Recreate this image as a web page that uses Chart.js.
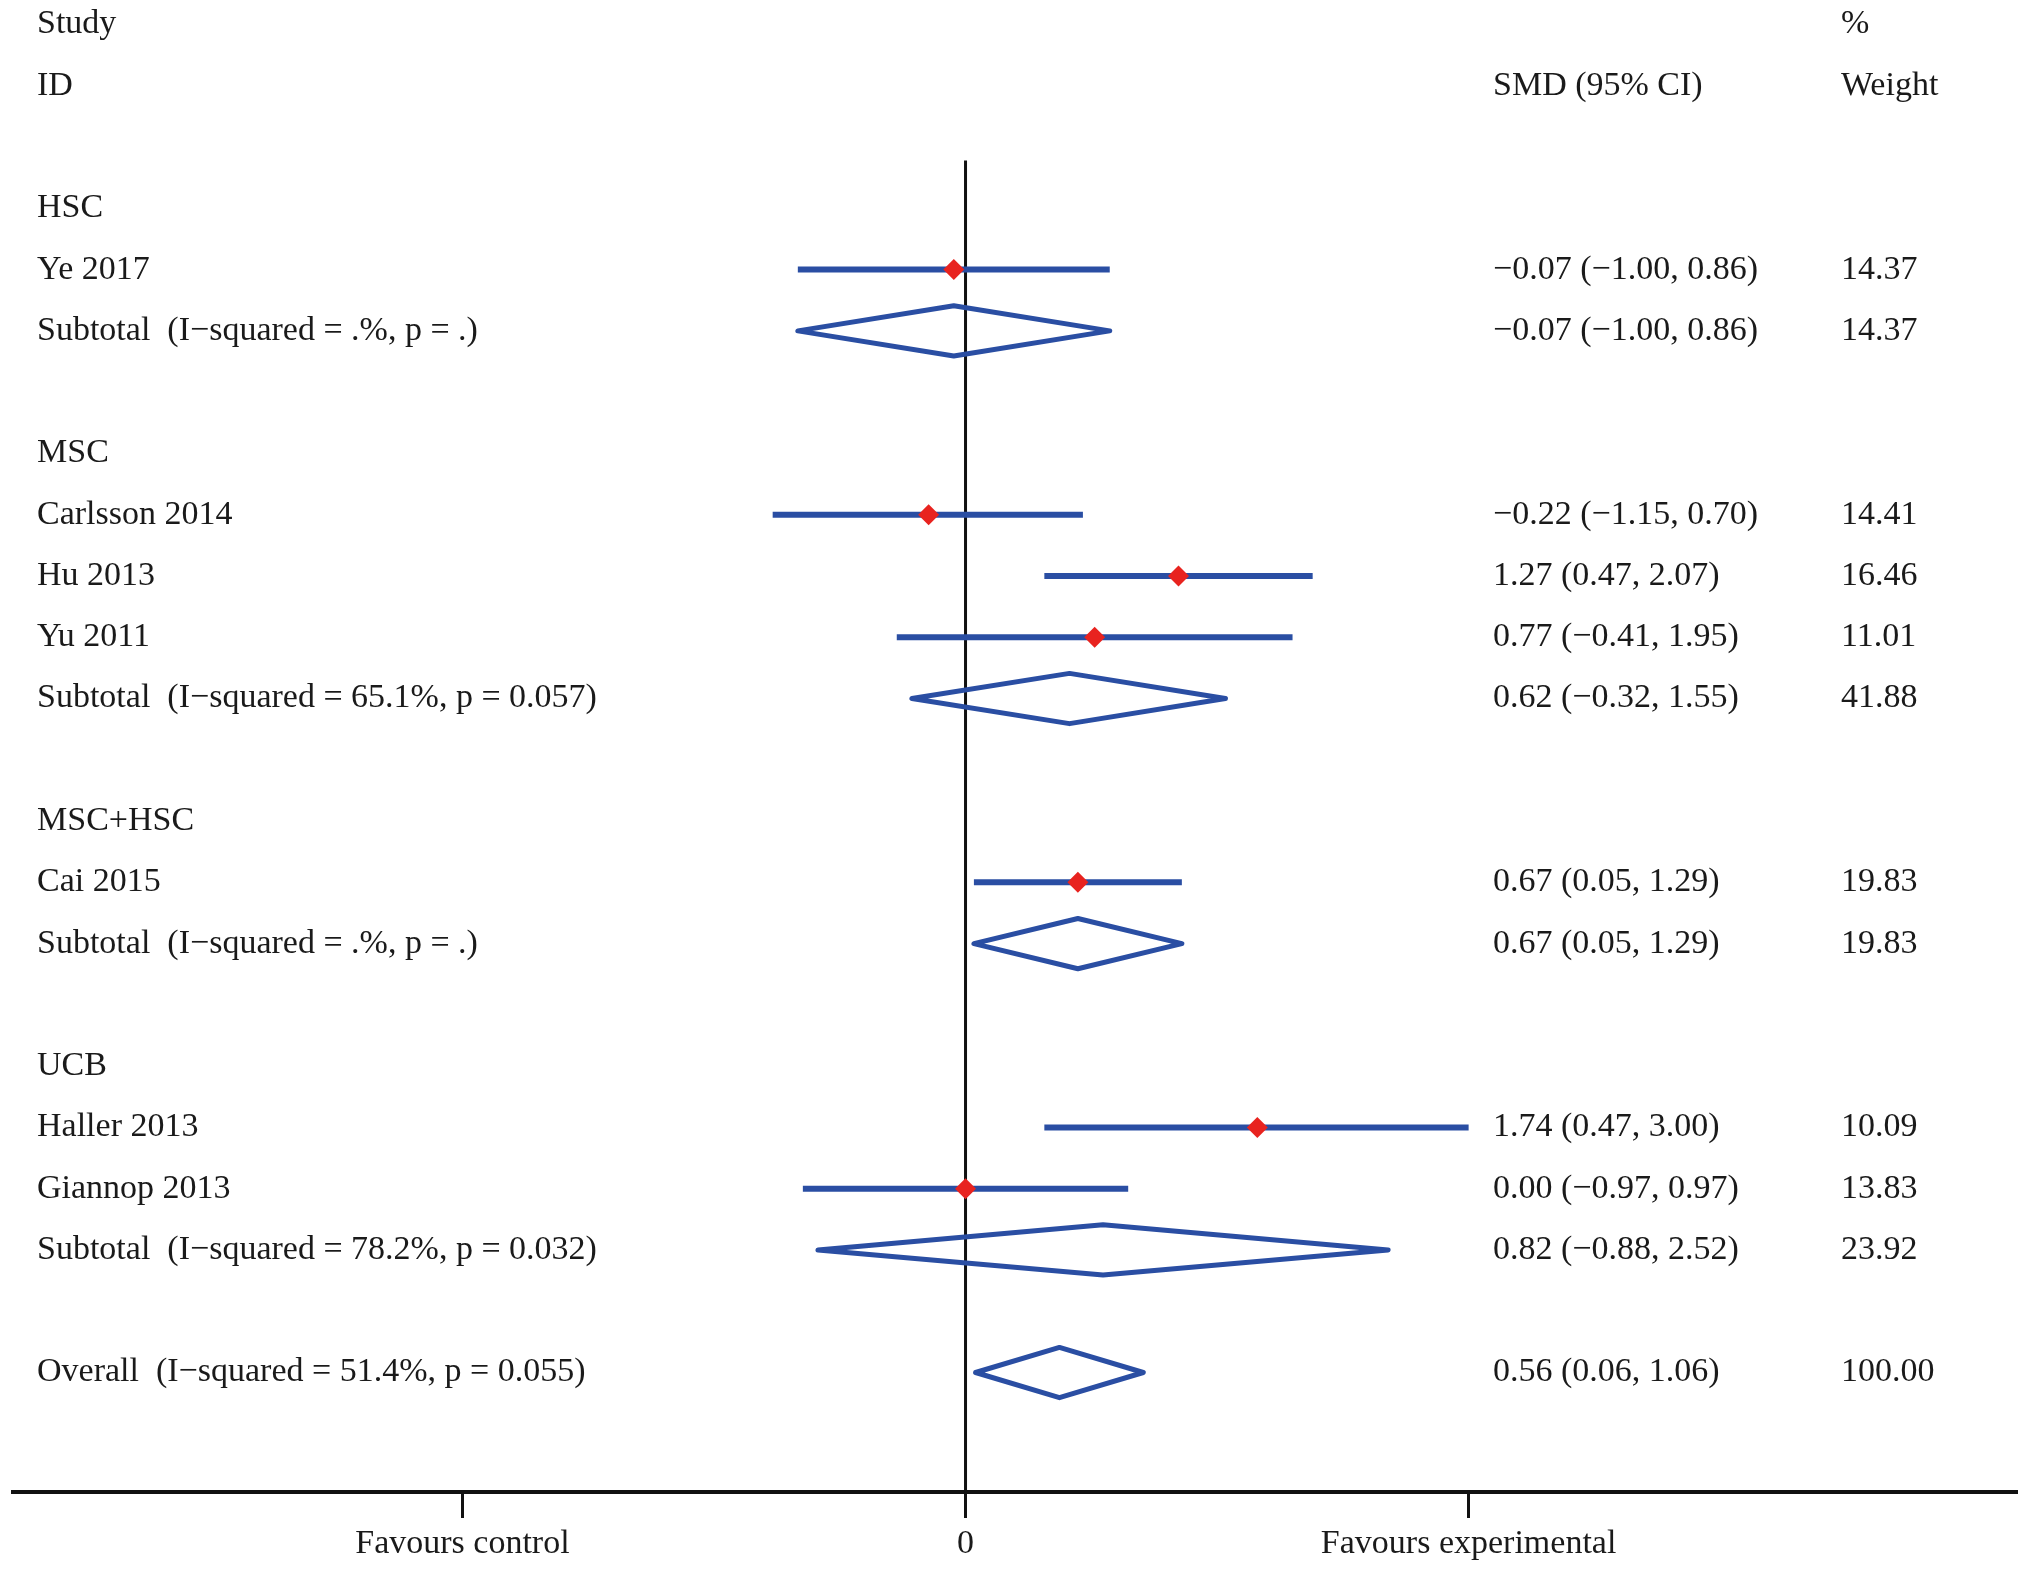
<!DOCTYPE html>
<html>
<head>
<meta charset="utf-8">
<script src="https://cdn.jsdelivr.net/npm/chart.js@4.4.1/dist/chart.umd.min.js"></script>
<style>
  html, body { margin: 0; padding: 0; background: #ffffff; }
  canvas { display: block; }
</style>
</head>
<body>
<canvas id="c" width="2031" height="1573"></canvas>
<script>
// ---------------- DATA ----------------
const headerLeft = ['Study', 'ID'];
const headerSMD = ['', 'SMD (95% CI)'];
const headerWeight = ['%', 'Weight'];

// rows after the header block (blank strings = spacer rows)
const rowLabels = [
  'HSC', 'Ye 2017', 'Subtotal  (I\u2212squared = .%, p = .)', '',
  'MSC', 'Carlsson 2014', 'Hu 2013', 'Yu 2011', 'Subtotal  (I\u2212squared = 65.1%, p = 0.057)', '',
  'MSC+HSC', 'Cai 2015', 'Subtotal  (I\u2212squared = .%, p = .)', '',
  'UCB', 'Haller 2013', 'Giannop 2013', 'Subtotal  (I\u2212squared = 78.2%, p = 0.032)', '',
  'Overall  (I\u2212squared = 51.4%, p = 0.055)'
];
const rowKind = [
  'group', 'study', 'sub', 'blank',
  'group', 'study', 'study', 'study', 'sub', 'blank',
  'group', 'study', 'sub', 'blank',
  'group', 'study', 'study', 'sub', 'blank',
  'sub'
];
const rowES = [
  null, -0.07, -0.07, null,
  null, -0.22, 1.27, 0.77, 0.62, null,
  null, 0.67, 0.67, null,
  null, 1.74, 0.00, 0.82, null,
  0.56
];
const rowLo = [
  null, -1.00, -1.00, null,
  null, -1.15, 0.47, -0.41, -0.32, null,
  null, 0.05, 0.05, null,
  null, 0.47, -0.97, -0.88, null,
  0.06
];
const rowHi = [
  null, 0.86, 0.86, null,
  null, 0.70, 2.07, 1.95, 1.55, null,
  null, 1.29, 1.29, null,
  null, 3.00, 0.97, 2.52, null,
  1.06
];
const rowWeight = [
  null, 14.37, 14.37, null,
  null, 14.41, 16.46, 11.01, 41.88, null,
  null, 19.83, 19.83, null,
  null, 10.09, 13.83, 23.92, null,
  100.00
];
const tickValues = [-3, 0, 3];
const tickLabels = ['Favours control', '0', 'Favours experimental'];

// ---------------- BUILD ----------------
const FIRST_ROW = 3;               // rows 0,1 header, row 2 blank
const BLUE = '#2a4ea3';
const RED = '#e8231f';
const FONT = '34px "Liberation Serif", "Times New Roman", serif';
const TEXT_COLOR = '#1a1a1a';
const DIAMOND_H = 0.41;

function fmt(v) {
  const s = Math.abs(v).toFixed(2);
  return (v < 0 ? '\u2212' : '') + s;
}

const datasets = [];
const pointData = [];

rowKind.forEach((k, i) => {
  const r = FIRST_ROW + i;
  if (k === 'study') {
    datasets.push({
      type: 'scatter', showLine: true, order: 2,
      data: [{x: rowLo[i], y: r}, {x: rowHi[i], y: r}],
      borderColor: BLUE, borderWidth: 6, pointRadius: 0, borderCapStyle: 'butt'
    });
    pointData.push({x: rowES[i], y: r});
  } else if (k === 'sub') {
    datasets.push({
      type: 'scatter', showLine: true, order: 2,
      data: [
        {x: rowLo[i], y: r}, {x: rowES[i], y: r - DIAMOND_H},
        {x: rowHi[i], y: r}, {x: rowES[i], y: r + DIAMOND_H},
        {x: rowLo[i], y: r}, {x: rowES[i], y: r - DIAMOND_H}
      ],
      borderColor: BLUE, borderWidth: 5, pointRadius: 0, borderJoinStyle: 'round'
    });
  }
});

const Y_MIN = -0.40, Y_MAX = 23.95;

// zero reference line
datasets.push({
  type: 'scatter', showLine: true, order: 3,
  data: [{x: 0, y: 2.22}, {x: 0, y: Y_MAX}],
  borderColor: '#111111', borderWidth: 3, pointRadius: 0
});

datasets.push({
  type: 'scatter', order: 1,
  data: pointData,
  pointStyle: 'rectRot', pointRadius: 10.5,
  backgroundColor: RED, borderColor: RED, borderWidth: 0
});

const textPlugin = {
  id: 'forestText',
  afterDraw(chart) {
    const ctx = chart.ctx;
    const y = chart.scales.y;
    const COL_LABEL = 37, COL_SMD = 1493, COL_W = 1841;
    ctx.save();
    ctx.font = FONT;
    ctx.fillStyle = TEXT_COLOR;
    ctx.textBaseline = 'middle';
    ctx.textAlign = 'left';
    headerLeft.forEach((t, i) => ctx.fillText(t, COL_LABEL, y.getPixelForValue(i)));
    headerSMD.forEach((t, i) => { if (t) ctx.fillText(t, COL_SMD, y.getPixelForValue(i)); });
    headerWeight.forEach((t, i) => ctx.fillText(t, COL_W, y.getPixelForValue(i)));
    rowLabels.forEach((t, i) => {
      const py = y.getPixelForValue(FIRST_ROW + i);
      if (t) ctx.fillText(t, COL_LABEL, py);
      if (rowES[i] !== null) {
        ctx.fillText(fmt(rowES[i]) + ' (' + fmt(rowLo[i]) + ', ' + fmt(rowHi[i]) + ')', COL_SMD, py);
        ctx.fillText(rowWeight[i].toFixed(2), COL_W, py);
      }
    });
    ctx.restore();
  }
};

new Chart(document.getElementById('c'), {
  type: 'scatter',
  data: { datasets },
  options: {
    responsive: false,
    devicePixelRatio: 1,
    animation: false,
    layout: { autoPadding: false, padding: { left: 13, right: 14, top: 0, bottom: 0 } },
    plugins: { legend: { display: false }, tooltip: { enabled: false } },
    scales: {
      x: {
        type: 'linear', min: -5.68, max: 6.27,
        afterBuildTicks(s) { s.ticks = tickValues.map(v => ({value: v})); },
        afterFit(s) { s.height = 81; },
        ticks: {
          callback: (v) => { const k = tickValues.indexOf(v); return k >= 0 ? tickLabels[k] : ''; },
          font: { family: '"Liberation Serif", "Times New Roman", serif', size: 34 },
          color: TEXT_COLOR, padding: 6, maxRotation: 0, autoSkip: false
        },
        grid: { drawOnChartArea: false, drawTicks: true, tickLength: 26, tickColor: '#111111', tickWidth: 3 },
        border: { display: true, color: '#111111', width: 4 }
      },
      y: {
        type: 'linear', reverse: true, min: Y_MIN, max: Y_MAX, display: false
      }
    }
  },
  plugins: [textPlugin]
});
</script>
</body>
</html>
